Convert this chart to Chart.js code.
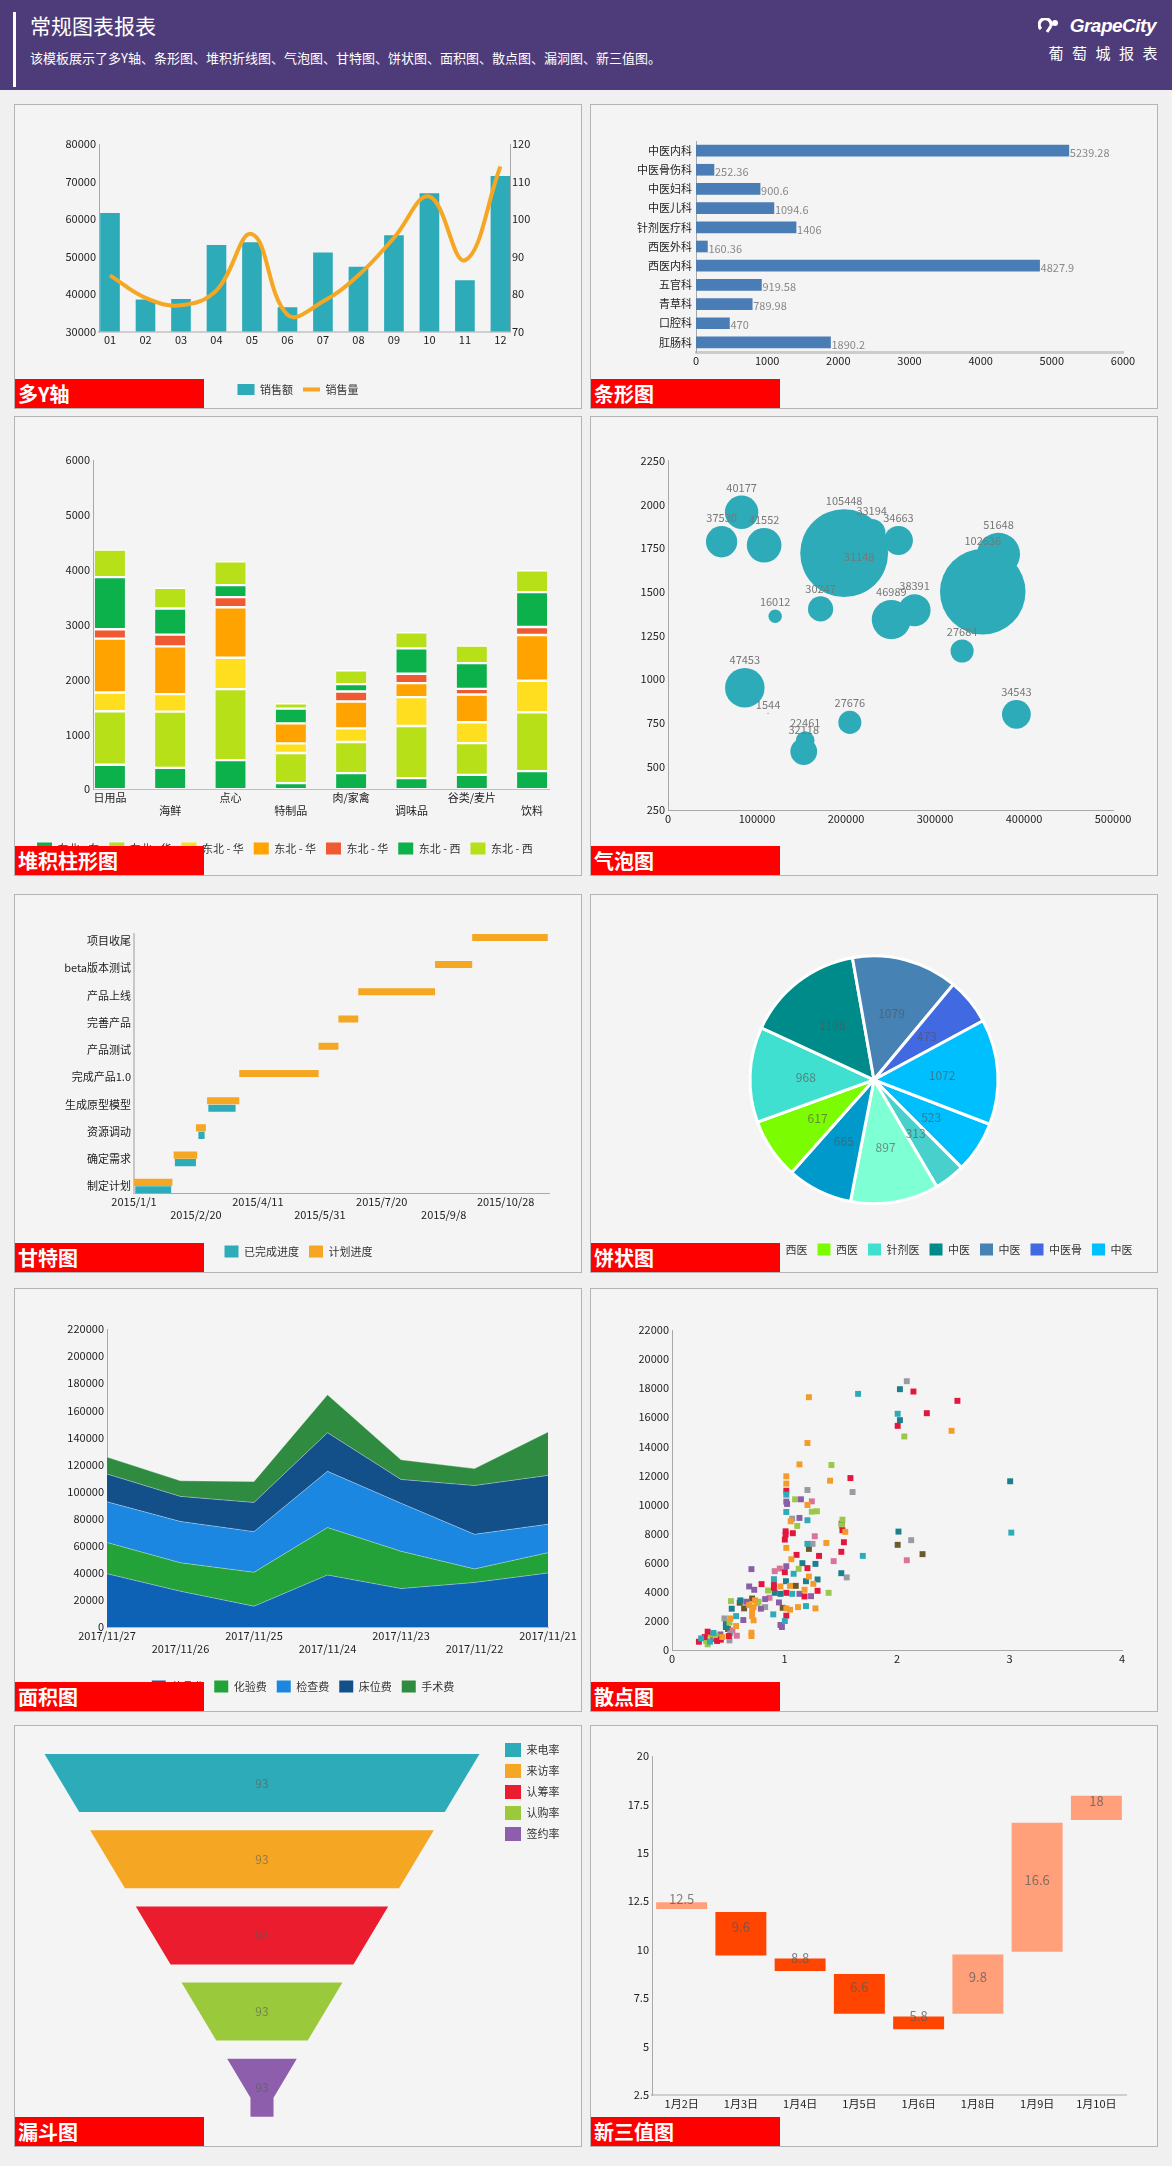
<!DOCTYPE html>
<html><head><meta charset="utf-8">
<script src="https://cdn.jsdelivr.net/npm/chart.js@4.4.1/dist/chart.umd.min.js"></script>
<style>
body{margin:0;background:#f0f0f0;width:1172px;height:2166px;position:relative;overflow:hidden;font-family:"Noto Sans CJK SC","Microsoft YaHei",sans-serif;}
#hdr{position:absolute;left:0;top:0;width:1172px;height:90px;background:#4e3b79;color:#fff;}
#hbar{position:absolute;left:13px;top:12px;width:3px;height:75px;background:#fff;}
#htitle{position:absolute;left:30px;top:10px;font-size:21px;line-height:30px;}
#hsub{position:absolute;left:30px;top:49px;font-size:13px;line-height:18px;}
#logo{position:absolute;right:16px;top:14px;height:24px;display:flex;align-items:center;font:italic bold 19px "Liberation Sans",Arial,sans-serif;letter-spacing:-0.5px;}
#logo svg{margin-right:10px;}
#logocn{position:absolute;right:6px;top:43px;font-size:15px;letter-spacing:8.5px;line-height:20px;}
.panel{position:absolute;box-sizing:border-box;width:568px;border:1px solid #b4b4b4;background:#f4f4f4;overflow:hidden;}
.panel canvas{position:absolute;left:0;top:0;}
.tag{position:absolute;left:0;bottom:0;width:189px;height:29px;background:#ff0000;color:#fff;font-weight:bold;font-size:20px;line-height:29px;padding-left:3px;box-sizing:border-box;z-index:5;}
</style>
</head>
<body>
<div id="hdr">
  <div id="hbar"></div>
  <div id="htitle">常规图表报表</div>
  <div id="hsub">该模板展示了多Y轴、条形图、堆积折线图、气泡图、甘特图、饼状图、面积图、散点图、漏洞图、新三值图。</div>
  <div id="logo"><svg width="22" height="16" viewBox="0 0 22 16"><path d="M3 11 A6 6 0 1 1 13 8" stroke="#fff" stroke-width="3.2" fill="none"/><circle cx="17" cy="5" r="3" fill="#fff"/><path d="M9 14 L13 8" stroke="#fff" stroke-width="3"/></svg><span>GrapeCity</span></div>
  <div id="logocn">葡萄城报表</div>
</div>

<div class="panel" style="left:14px;top:104px;height:305px"><canvas id="c1" width="566" height="303"></canvas><div class="tag">多Y轴</div></div>
<div class="panel" style="left:590px;top:104px;height:305px"><canvas id="c2" width="566" height="303"></canvas><div class="tag">条形图</div></div>
<div class="panel" style="left:14px;top:416px;height:460px"><canvas id="c3" width="566" height="458"></canvas><div class="tag">堆积柱形图</div></div>
<div class="panel" style="left:590px;top:416px;height:460px"><canvas id="c4" width="566" height="458"></canvas><div class="tag">气泡图</div></div>
<div class="panel" style="left:14px;top:894px;height:379px"><canvas id="c5" width="566" height="377"></canvas><div class="tag">甘特图</div></div>
<div class="panel" style="left:590px;top:894px;height:379px"><canvas id="c6" width="566" height="377"></canvas><div class="tag">饼状图</div></div>
<div class="panel" style="left:14px;top:1288px;height:424px"><canvas id="c7" width="566" height="422"></canvas><div class="tag">面积图</div></div>
<div class="panel" style="left:590px;top:1288px;height:424px"><canvas id="c8" width="566" height="422"></canvas><div class="tag">散点图</div></div>
<div class="panel" style="left:14px;top:1725px;height:422px"><canvas id="c9" width="566" height="420"></canvas><div class="tag">漏斗图</div></div>
<div class="panel" style="left:590px;top:1725px;height:422px"><canvas id="c10" width="566" height="420"></canvas><div class="tag">新三值图</div></div>

<script>
// ===== DATA =====
// 1 多Y轴
const months = ['01','02','03','04','05','06','07','08','09','10','11','12'];
const salesAmount = [61500, 38500, 38600, 53000, 53700, 36400, 51000, 47200, 55600, 66800, 43600, 71400];
const salesQty = [85, 79, 77, 81, 96, 74.5, 78, 85, 95, 106, 89, 114];
// 2 条形图
const depts = ['中医内科','中医骨伤科','中医妇科','中医儿科','针剂医疗科','西医外科','西医内科','五官科','青草科','口腔科','肛肠科'];
const deptValues = [5239.28, 252.36, 900.6, 1094.6, 1406, 160.36, 4827.9, 919.58, 789.98, 470, 1890.2];
// 3 堆积柱形图
const stackCats = ['日用品','海鲜','点心','特制品','肉/家禽','调味品','谷类/麦片','饮料'];
const stackNames = ['东北 - 东','东北 - 华','东北 - 华','东北 - 华','东北 - 华','东北 - 西','东北 - 西'];
const stackS1 = [445, 390, 530, 110, 293, 201, 262, 329];
const stackS2 = [976, 1025, 1293, 549, 567, 951, 579, 1073];
const stackS3 = [341, 317, 573, 176, 250, 525, 379, 574];
const stackS4 = [982, 872, 921, 366, 488, 256, 506, 835];
const stackS5 = [171, 213, 183, 0, 182, 171, 103, 146];
const stackS6 = [951, 476, 220, 269, 135, 463, 470, 634];
const stackS7 = [500, 378, 432, 97, 250, 293, 317, 397];
// 4 气泡图
const bubbleSize = [40177, 37530, 41552, 105448, 33194, 34663, 31148, 16012, 30247, 46989, 38391, 102636, 51648, 27684, 47453, 1544, 27676, 22461, 32118, 34543];
const bubbleX = [82700, 60200, 108000, 197900, 228800, 258900, 214700, 120400, 171400, 250900, 277000, 353600, 371300, 330400, 86300, 112400, 204300, 154100, 152500, 391400];
const bubbleY = [1956, 1787, 1767, 1722, 1838, 1794, 1582, 1360, 1402, 1341, 1395, 1500, 1715, 1161, 950, 804, 752, 648, 585, 798];
// 5 甘特图
const ganttTasks = ['制定计划','确定需求','资源调动','生成原型模型','完成产品1.0','产品测试','完善产品','产品上线','beta版本测试','项目收尾'];
const planStart = ['2015-01-01','2015-02-02','2015-02-20','2015-03-01','2015-03-27','2015-05-30','2015-06-15','2015-07-01','2015-09-01','2015-10-01'];
const planEnd   = ['2015-02-01','2015-02-21','2015-02-28','2015-03-27','2015-05-30','2015-06-15','2015-07-01','2015-09-01','2015-10-01','2015-12-01'];
const doneStart = ['2015-01-02','2015-02-03','2015-02-22','2015-03-02'];
const doneEnd   = ['2015-01-31','2015-02-20','2015-02-27','2015-03-24'];
const ganttTickLabels = ['2015/1/1','2015/2/20','2015/4/11','2015/5/31','2015/7/20','2015/9/8','2015/10/28'];
// 6 饼状图
const pieLabels = ['肛肠','口腔','五官','西医','西医','针剂医','中医','中医','中医骨','中医'];
const pieValues = [523, 313, 897, 665, 617, 968, 1198, 1079, 473, 1072];
const pieColors = ['#00bfff','#48d1cc','#7fffd4','#0099cc','#7cfc00','#40e0d0','#008b8b','#4682b4','#4169e1','#00bfff'];
// 7 面积图
const areaDates = ['2017/11/27','2017/11/26','2017/11/25','2017/11/24','2017/11/23','2017/11/22','2017/11/21'];
const areaNames = ['药品费','化验费','检查费','床位费','手术费'];
const areaDrug  = [39500, 26500, 15500, 38500, 28500, 33000, 40000];
const areaLab   = [23000, 21000, 25000, 35000, 27500, 10000, 15000];
const areaCheck = [30000, 30500, 30000, 41500, 35500, 25500, 21000];
const areaBed   = [20500, 18500, 21500, 28500, 17500, 36000, 36000];
const areaSurg  = [12500, 11500, 15500, 28000, 14500, 12500, 32000];
// 8 散点图
const scOrange = [[1.217,17380],[2.485,15070],[1.204,14230],[1.133,12760],[1.405,11640],[1.016,11940],[1.016,11440],[1.204,9970],[1.055,8850],[1.540,8120],[1.372,7360],[1.016,7020],[1.061,6240],[1.217,5050],[1.256,4550],[0.964,4370],[1.049,4410],[1.178,4140],[0.738,3410],[0.686,3090],[0.725,2950],[0.712,2680],[0.712,2330],[0.725,2040],[0.706,1190],[0.706,960],[1.016,2860],[1.049,2770],[1.120,2950],[1.275,2860],[0.518,2170],[0.570,1650],[0.447,890]];
const scTeal = [[1.654,17610],[2.006,16240],[3.016,8070],[1.696,6470],[1.016,10680],[1.016,9490],[1.204,8920],[1.204,7300],[1.081,5240],[0.906,4870],[1.068,3860],[0.900,2450],[1.191,3020],[1.003,1990],[0.570,2330],[0.369,1170],[0.259,800],[0.337,570]];
const scDarkTeal = [[2.026,17930],[2.026,15800],[3.006,11600],[2.013,8140],[1.159,5970],[1.275,5920],[1.505,5280],[1.191,4730],[1.294,4850],[1.013,4730],[0.964,3860],[0.913,3930],[0.608,3410],[0.531,2840],[0.479,1810],[0.479,1580]];
const scGray = [[2.087,18480],[1.605,10860],[1.204,11000],[2.126,7550],[1.068,9030],[1.249,7300],[1.553,4990],[0.828,2950],[0.466,2170],[0.518,1140],[0.511,660]];
const scRed = [[2.146,17770],[2.537,17130],[2.265,16280],[2.006,15410],[1.586,11820],[1.016,10950],[1.515,8230],[1.010,8160],[1.010,7940],[1.074,8030],[1.003,7590],[1.528,7410],[1.505,6750],[1.107,6540],[1.307,6470],[1.204,5630],[1.003,5350],[0.796,4530],[0.906,4500],[0.906,4280],[1.294,4070],[1.178,3680],[1.016,3930],[1.016,2360],[0.505,960],[0.317,1260],[0.291,890],[0.239,570],[0.401,620],[0.434,710]];
const scGreen = [[2.065,14680],[1.417,12720],[1.094,10360],[1.243,9510],[1.288,9540],[1.113,8530],[1.515,8960],[1.508,8550],[1.126,5580],[0.854,4090],[1.392,3930],[0.770,3320],[0.757,3220],[0.524,3360],[0.511,1880],[0.388,980],[0.337,1070],[0.304,620],[0.317,390]];
const scPurple = [[1.146,10360],[1.016,10200],[1.023,10040],[1.133,9080],[1.016,5760],[0.706,5560],[0.686,4370],[0.731,4140],[1.236,3700],[1.133,3860],[0.828,3500],[0.660,3320],[0.790,2840],[0.951,3270],[0.964,1720],[0.977,1580],[0.634,2060],[0.430,1070],[0.414,890],[0.362,750]];
const scPink = [[2.087,6170],[1.243,10220],[1.269,7820],[1.437,6110],[0.913,5420],[0.958,5600],[0.867,3590],[0.537,1350],[0.576,980]];
const scBrown = [[2.006,7230],[2.227,6590],[1.508,8690],[1.217,6950],[1.100,4410],[0.712,3540],[0.602,3250],[0.641,2860],[0.984,2900],[0.498,1440]];
// 9 漏斗图
const funnelNames = ['来电率','来访率','认筹率','认购率','签约率'];
const funnelValues = [93, 93, 93, 93, 93];
// 10 新三值图
const wfDays = ['1月2日','1月3日','1月4日','1月5日','1月6日','1月8日','1月9日','1月10日'];
const wfLow  = [12.1, 9.7, 8.9, 6.7, 5.9, 6.7, 9.9, 16.7];
const wfHigh = [12.45, 11.95, 9.55, 8.75, 6.55, 9.75, 16.55, 17.95];
const wfLabels = [12.5, 9.6, 8.8, 6.6, 5.8, 9.8, 16.6, 18];

// ===== STYLE / HELPERS =====
const FONT = '"Noto Sans CJK SC", "Microsoft YaHei", sans-serif';
Chart.defaults.font.family = FONT;
Chart.defaults.font.size = 11;
Chart.defaults.color = '#333';
Chart.defaults.animation = false;
Chart.defaults.responsive = false;
Chart.defaults.plugins.tooltip.enabled = false;
const TEAL = '#2eabb8', ORANGE = '#f5a623';
const W = n => s => { s.width = n; };
const Hh = n => s => { s.height = n; };
const noGrid = {display:false, drawTicks:false};
const axisBorder = {color:'#a8a8a8', width:1};
const num = v => v;
function plainLegend(chart){
  return Chart.defaults.plugins.legend.labels.generateLabels(chart).map(it => { if (it.pointStyle !== 'line') it.lineWidth = 0; return it; });
}
function pieLegend(chart){
  const ov = (Chart.overrides.pie && Chart.overrides.pie.plugins && Chart.overrides.pie.plugins.legend) ? Chart.overrides.pie : Chart.overrides.doughnut;
  return ov.plugins.legend.labels.generateLabels(chart).map(it => { it.lineWidth = 0; return it; });
}
function dayNum(s){ const p = s.split('-').map(Number); return (Date.UTC(p[0], p[1]-1, p[2]) - Date.UTC(2015,0,1)) / 86400000; }
function textPlugin(id, fn){ return {id, afterDatasetsDraw(chart){ const ctx = chart.ctx; ctx.save(); fn(chart, ctx); ctx.restore(); }}; }

// ===== 1 多Y轴 =====
new Chart(document.getElementById('c1'), {
  type:'bar',
  data:{datasets:[
    {type:'bar', label:'销售额', data:salesAmount.map((v, i) => ({x:i, y:v})), backgroundColor:TEAL, barThickness:19, yAxisID:'y', order:1, pointStyle:'rect'},
    {type:'line', label:'销售量', data:salesQty.map((v, i) => ({x:i, y:v})), borderColor:ORANGE, backgroundColor:ORANGE, borderWidth:4, tension:0.4, pointRadius:0, yAxisID:'y1', order:0, pointStyle:'line', fill:false}
  ]},
  options:{
    layout:{padding:{top:39,left:0,right:0,bottom:3}},
    scales:{
      x:{type:'linear', offset:false, min:-0.31, max:11.27, grid:noGrid, border:{color:'#cfcfcf', width:2},
         afterBuildTicks:s => { s.ticks = months.map((m, i) => ({value:i})); },
         ticks:{autoSkip:false, maxRotation:0, color:'#222', padding:2, callback:(v, i) => months[i]}, afterFit:Hh(42.4)},
      y:{position:'left', min:30000, max:80000, grid:noGrid, border:axisBorder, ticks:{stepSize:10000, color:'#222', callback:num}, afterFit:W(84)},
      y1:{position:'right', min:70, max:120, grid:noGrid, border:axisBorder, ticks:{stepSize:10, color:'#222', callback:num, padding:2}, afterFit:W(71)}
    },
    plugins:{legend:{position:'bottom', labels:{usePointStyle:true, pointStyleWidth:17, boxHeight:11, padding:10, sort:(a,b)=>a.datasetIndex-b.datasetIndex, generateLabels:plainLegend}}}
  }
});

// ===== 2 条形图 =====
new Chart(document.getElementById('c2'), {
  type:'bar',
  data:{labels:depts, datasets:[{data:deptValues, backgroundColor:'#4a7db5', barThickness:11}]},
  options:{
    indexAxis:'y',
    layout:{padding:{top:36,left:0,right:34,bottom:32}},
    scales:{
      x:{min:0, max:6000, grid:noGrid, border:{color:'#cccccc', width:3}, ticks:{stepSize:1000, padding:2, color:'#222', callback:num}, afterFit:Hh(24)},
      y:{grid:noGrid, border:axisBorder, ticks:{color:'#222', padding:4, autoSkip:false}, afterFit:W(105)}
    },
    plugins:{legend:{display:false}}
  },
  plugins:[textPlugin('barvals', (chart, ctx) => {
    ctx.font = '11px ' + FONT; ctx.fillStyle = '#888'; ctx.textAlign = 'left'; ctx.textBaseline = 'middle';
    chart.getDatasetMeta(0).data.forEach((el, i) => ctx.fillText(String(deptValues[i]), el.x + 1, el.y + 2));
  })]
});

// ===== 3 堆积柱形图 =====
const stackSeries = [stackS1, stackS2, stackS3, stackS4, stackS5, stackS6, stackS7];
const stackColors = ['#0db14b','#b7e019','#ffdd1f','#ffa300','#f05a32','#0db14b','#b7e019'];
new Chart(document.getElementById('c3'), {
  type:'bar',
  data:{datasets: stackSeries.map((vals, k) => ({
    label:stackNames[k], data:vals.map((v, i) => ({x:i, y:v})), backgroundColor:stackColors[k],
    borderColor:'#ffffff', borderWidth:{top:1.5, bottom:1.5, left:0, right:0}, borderSkipped:false, barThickness:30
  }))},
  options:{
    layout:{padding:{top:43,left:12,right:32,bottom:10.4}},
    scales:{
      x:{type:'linear', offset:false, min:-0.28, max:7.28, stacked:true, grid:noGrid, border:{color:'#bdbdbd'},
         afterBuildTicks:s => { s.ticks = stackCats.map((c, i) => ({value:i})); },
         ticks:{autoSkip:false, maxRotation:0, padding:2, color:'#222', callback:(v, i) => i % 2 ? ['', stackCats[i]] : stackCats[i]},
         afterFit:Hh(43.4)},
      y:{stacked:true, min:0, max:6000, grid:noGrid, border:axisBorder, ticks:{stepSize:1000, color:'#222', callback:num}, afterFit:W(66)}
    },
    plugins:{legend:{position:'bottom', align:'start', labels:{boxWidth:15, boxHeight:12, padding:10, generateLabels:plainLegend}}}
  }
});

// ===== 4 气泡图 =====
new Chart(document.getElementById('c4'), {
  type:'bubble',
  data:{datasets:[{data:bubbleX.map((x, i) => ({x, y:bubbleY[i], r:bubbleSize[i] / 2400})), backgroundColor:TEAL, borderWidth:0, hoverRadius:0}]},
  options:{
    layout:{padding:{top:42,left:0,right:36,bottom:43}},
    scales:{
      x:{min:0, max:500000, grid:noGrid, border:axisBorder, ticks:{stepSize:100000, padding:2, color:'#222', callback:num}, afterFit:Hh(22)},
      y:{min:250, max:2250, grid:noGrid, border:axisBorder, ticks:{stepSize:250, color:'#222', callback:num}, afterFit:W(77)}
    },
    plugins:{legend:{display:false}}
  },
  plugins:[textPlugin('bubvals', (chart, ctx) => {
    ctx.font = '11px ' + FONT; ctx.fillStyle = '#777'; ctx.textAlign = 'center'; ctx.textBaseline = 'middle';
    chart.getDatasetMeta(0).data.forEach((el, i) => ctx.fillText(String(bubbleSize[i]), el.x, el.y - el.options.radius - 8));
  })]
});

// ===== 5 甘特图 =====
new Chart(document.getElementById('c5'), {
  type:'bar',
  data:{datasets:[
    {label:'计划进度', data:ganttTasks.map((t, i) => ({y:i, x:[dayNum(planStart[i]), dayNum(planEnd[i])]})), backgroundColor:ORANGE, categoryPercentage:0.55, barPercentage:0.95},
    {label:'已完成进度', data:doneStart.map((s, i) => ({y:i, x:[dayNum(s), dayNum(doneEnd[i])]})), backgroundColor:TEAL, categoryPercentage:0.55, barPercentage:0.95}
  ]},
  options:{
    indexAxis:'y',
    layout:{padding:{top:39,left:33,right:32,bottom:4.4}},
    scales:{
      x:{type:'linear', min:0, max:335, grid:noGrid, border:{color:'#aaaaaa'},
         afterBuildTicks:s => { s.ticks = ganttTickLabels.map((l, i) => ({value:i * 50})); },
         ticks:{autoSkip:false, maxRotation:0, padding:2, color:'#222', callback:(v, i) => i % 2 ? ['', ganttTickLabels[i]] : ganttTickLabels[i]},
         afterFit:Hh(42.4)},
      y:{type:'linear', offset:false, min:-0.26, max:9.26, grid:noGrid, border:{color:'#c8c8c8', width:2},
         afterBuildTicks:s => { s.ticks = ganttTasks.map((t, i) => ({value:i})); },
         ticks:{autoSkip:false, padding:3, color:'#222', callback:(v, i) => ganttTasks[i]}, afterFit:W(86)}
    },
    plugins:{legend:{position:'bottom', reverse:true, labels:{boxWidth:14, boxHeight:12, padding:10, generateLabels:plainLegend}}}
  }
});

// ===== 6 饼状图 =====
new Chart(document.getElementById('c6'), {
  type:'pie',
  data:{labels:pieLabels, datasets:[{data:pieValues, backgroundColor:pieColors, borderColor:'#ffffff', borderWidth:3, radius:124}]},
  options:{
    rotation:111,
    layout:{padding:{top:31,left:0,right:0,bottom:6.4}},
    plugins:{legend:{position:'bottom', labels:{boxWidth:13, boxHeight:12, padding:10, generateLabels:pieLegend}}}
  },
  plugins:[textPlugin('pievals', (chart, ctx) => {
    ctx.font = '12px ' + FONT; ctx.fillStyle = 'rgba(85,85,85,0.65)'; ctx.textAlign = 'center'; ctx.textBaseline = 'middle';
    chart.getDatasetMeta(0).data.forEach((el, i) => {
      const p = el.getProps(['startAngle','endAngle','outerRadius','x','y']);
      const a = (p.startAngle + p.endAngle) / 2, r = p.outerRadius * 0.55;
      ctx.fillText(String(pieValues[i]), p.x + Math.cos(a) * r, p.y + Math.sin(a) * r);
    });
  })]
});

// ===== 7 面积图 =====
const areaSeries = [areaDrug, areaLab, areaCheck, areaBed, areaSurg];
const areaColors = ['#0d62b6','#22a238','#1b87e0','#135089','#2f8b3f'];
new Chart(document.getElementById('c7'), {
  type:'line',
  data:{labels:areaDates, datasets:areaSeries.map((vals, k) => ({
    label:areaNames[k], data:vals, backgroundColor:areaColors[k], borderColor:'rgba(255,255,255,0.35)', borderWidth:1,
    fill:k === 0 ? 'origin' : '-1', pointRadius:0, tension:0
  }))},
  options:{
    layout:{padding:{top:40,left:43,right:33,bottom:8.4}},
    scales:{
      x:{offset:false, grid:noGrid, border:{color:'#bbbbbb'}, ticks:{autoSkip:false, maxRotation:0, padding:2, color:'#222', callback:(v, i) => i % 2 ? ['', areaDates[i]] : areaDates[i]}, afterFit:Hh(43.4)},
      y:{stacked:true, min:0, max:220000, grid:noGrid, border:axisBorder, ticks:{stepSize:20000, color:'#222', callback:num}, afterFit:W(49)}
    },
    plugins:{legend:{position:'bottom', labels:{boxWidth:14, boxHeight:12, padding:10, generateLabels:plainLegend}}}
  }
});

// ===== 8 散点图 =====
const scSets = [scTeal, scOrange, scRed, scGreen, scPurple, scGray, scPink, scDarkTeal, scBrown];
const scColors = ['#2eabb8','#f39c2c','#e3173e','#9bc74b','#8b5ea8','#9a9aa5','#d9739b','#1b7f8c','#6b5b2c'];
new Chart(document.getElementById('c8'), {
  type:'scatter',
  data:{datasets:scSets.map((pts, k) => ({data:pts, backgroundColor:scColors[k], borderWidth:0, pointStyle:'rect', pointRadius:4.2}))},
  options:{
    layout:{padding:{top:41,left:0,right:35,bottom:37}},
    scales:{
      x:{min:0, max:4, grid:noGrid, border:axisBorder, ticks:{stepSize:1, padding:2, color:'#222', callback:num}, afterFit:Hh(24)},
      y:{min:0, max:22000, grid:noGrid, border:axisBorder, ticks:{stepSize:2000, color:'#222', callback:num}, afterFit:W(81)}
    },
    plugins:{legend:{display:false}}
  }
});

// ===== 9 漏斗图 =====
const FUNNEL_TAPER = 0.21, FUNNEL_SEG = 0.761, FUNNEL_NECK = 0.053;
const FUNNEL_CX = 247, FUNNEL_UX = 217.5, FUNNEL_TOP = 28, FUNNEL_UY = 76.2;
function funnelHalf(y){ return Math.max(1 - FUNNEL_TAPER * y, FUNNEL_NECK); }
function funnelPoly(i){
  const ys = [i]; const yn = (1 - FUNNEL_NECK) / FUNNEL_TAPER;
  if (yn > i && yn < i + FUNNEL_SEG) ys.push(yn);
  ys.push(i + FUNNEL_SEG);
  const pts = ys.map(y => ({x:-funnelHalf(y), y}));
  ys.slice().reverse().forEach(y => pts.push({x:funnelHalf(y), y}));
  pts.push(pts[0]);
  return pts;
}
const funnelColors = ['#2eabb8','#f5a623','#ea1c2d','#9bc93c','#8c5eab'];
const fchart = new Chart(document.getElementById('c9'), {
  type:'line',
  data:{datasets:funnelNames.map((n, i) => ({label:n, data:funnelPoly(i), backgroundColor:funnelColors[i], borderWidth:0, fill:'shape', pointRadius:0, tension:0}))},
  options:{
    layout:{padding:{top:10,left:0,right:11.5,bottom:0}},
    scales:{x:{type:'linear', display:false, min:-1.2, max:1.2}, y:{type:'linear', display:false, reverse:true, min:-0.4, max:5}},
    plugins:{legend:{position:'right', align:'start', labels:{boxWidth:16, boxHeight:14, padding:7, generateLabels:plainLegend}}}
  },
  plugins:[textPlugin('funvals', (chart, ctx) => {
    ctx.font = '12px ' + FONT; ctx.fillStyle = 'rgba(90,90,90,0.6)'; ctx.textAlign = 'center'; ctx.textBaseline = 'middle';
    funnelValues.forEach((v, i) => ctx.fillText(String(v), chart.scales.x.getPixelForValue(0), chart.scales.y.getPixelForValue(i + FUNNEL_SEG / 2)));
  })]
});
(function(){
  const a = fchart.chartArea;
  fchart.options.scales.x.min = (a.left - FUNNEL_CX) / FUNNEL_UX;
  fchart.options.scales.x.max = (a.right - FUNNEL_CX) / FUNNEL_UX;
  fchart.options.scales.y.min = (a.top - FUNNEL_TOP) / FUNNEL_UY;
  fchart.options.scales.y.max = (a.bottom - FUNNEL_TOP) / FUNNEL_UY;
  fchart.update();
})();

// ===== 10 新三值图 =====
const wfColors = wfHigh.map((h, i) => (i === 0 || h > wfHigh[i - 1]) ? '#ffa07a' : '#ff4500');
new Chart(document.getElementById('c10'), {
  type:'bar',
  data:{labels:wfDays, datasets:[{data:wfLow.map((l, i) => [l, wfHigh[i]]), backgroundColor:wfColors, barPercentage:0.86, categoryPercentage:1}]},
  options:{
    layout:{padding:{top:30,left:0,right:31,bottom:27}},
    scales:{
      x:{grid:noGrid, border:{color:'#cfcfcf', width:2}, ticks:{padding:2, color:'#222'}, afterFit:Hh(24)},
      y:{min:2.5, max:20, grid:noGrid, border:axisBorder, ticks:{stepSize:2.5, color:'#222', callback:num}, afterFit:W(61)}
    },
    plugins:{legend:{display:false}}
  },
  plugins:[textPlugin('wfvals', (chart, ctx) => {
    ctx.font = '13px ' + FONT; ctx.fillStyle = 'rgba(90,90,90,0.75)'; ctx.textAlign = 'center'; ctx.textBaseline = 'middle';
    chart.getDatasetMeta(0).data.forEach((el, i) => ctx.fillText(String(wfLabels[i]), el.x, (el.y + el.base) / 2 - 7));
  })]
});
</script>
</body></html>
